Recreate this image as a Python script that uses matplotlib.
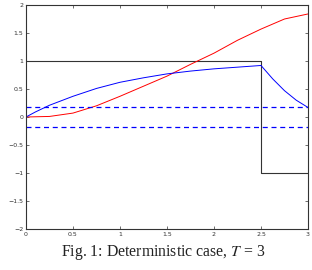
import matplotlib
matplotlib.use("Agg")
import matplotlib.pyplot as plt

# values
t_red = [0, 0.25, 0.5, 0.75, 1.0, 1.25, 1.5, 1.75, 2.0, 2.25, 2.5, 2.75, 3.0]
red = [0, 0.01, 0.07, 0.20, 0.37, 0.55, 0.73, 0.94, 1.14, 1.37, 1.57, 1.75, 1.84]

t_blue = [0, 0.1, 0.25, 0.5, 0.75, 1.0, 1.25, 1.5, 1.75, 2.0, 2.25, 2.5,
          2.625, 2.75, 2.875, 3.0]
blue = [0, 0.09, 0.21, 0.37, 0.51, 0.62, 0.70, 0.77, 0.82, 0.86, 0.89, 0.92,
        0.68, 0.47, 0.30, 0.17]

t_switch = [0, 2.5, 2.5, 3.0]
control = [1, 1, -1, -1]

band = 0.17
xticks = [0, 0.5, 1, 1.5, 2, 2.5, 3]
yticks = [-2, -1.5, -1, -0.5, 0, 0.5, 1, 1.5, 2]

plt.rcParams['mathtext.fontset'] = 'stix'

fig = plt.figure(figsize=(3.12, 2.70), dpi=100)
ax = fig.add_axes([26 / 312, 1 - 229 / 270, 282 / 312, 224 / 270])

ax.plot(t_switch, control, color='#333333', lw=0.8)
ax.plot(t_red, red, color='red', lw=0.7)
ax.plot(t_blue, blue, color='blue', lw=0.7)
ax.axhline(band, color='blue', lw=0.9, ls=(0, (4, 3)))
ax.axhline(-band, color='blue', lw=0.9, ls=(0, (4, 3)))

ax.set_xlim(0, 3)
ax.set_ylim(-2, 2)
ax.set_xticks(xticks)
ax.set_yticks(yticks)
ax.set_xticklabels([f"{v:g}" for v in xticks])
ax.set_yticklabels([f"{v:g}".replace('-', '\u2212') for v in yticks])
ax.tick_params(direction='in', length=2, width=0.5, labelsize=4.5,
               top=True, right=True, pad=2, colors='#333333')
for s in ax.spines.values():
    s.set_linewidth(0.8)
    s.set_color('#333333')

fig.text(0.522, 1 - 253 / 270, "Fig. 1: Deterministic case, $T$ = 3",
         ha='center', va='center', fontsize=11.3, family='Liberation Serif',
         color='#222222')

fig.savefig("out.png", dpi=100)
